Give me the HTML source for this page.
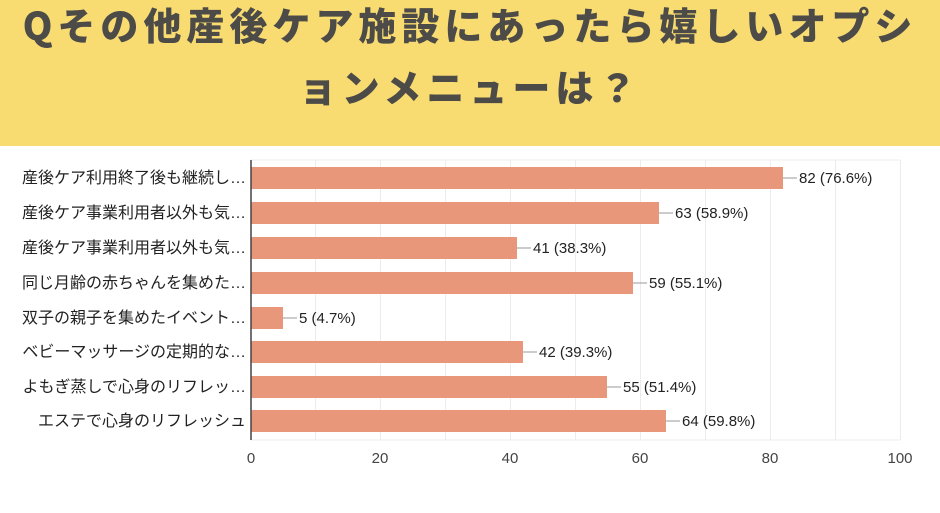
<!DOCTYPE html>
<html><head><meta charset="utf-8"><style>
body{margin:0;width:940px;height:513px;background:#fff;overflow:hidden;font-family:"Liberation Sans","Noto Sans CJK JP",sans-serif;}
.hd{position:absolute;left:0;top:0;width:940px;height:146px;background:#f8dc71;}
.t{position:absolute;left:0;width:940px;text-align:center;font-family:"Noto Sans CJK JP",sans-serif;font-weight:900;color:#4d4b48;font-size:38px;letter-spacing:5px;white-space:nowrap;}
</style></head><body>
<div class="hd"></div>
<div class="t" style="top:-4px;">Qその他産後ケア施設にあったら嬉しいオプシ</div>
<div class="t" style="top:58px;">ョンメニューは？</div>
<svg width="940" height="513" style="position:absolute;left:0;top:0" font-family="Liberation Sans, Noto Sans CJK JP, sans-serif">
<g stroke="#ececec" stroke-width="1">
<line x1="251" y1="160" x2="900" y2="160"/>
<line x1="315.5" y1="160" x2="315.5" y2="440"/><line x1="380.5" y1="160" x2="380.5" y2="440"/><line x1="445.5" y1="160" x2="445.5" y2="440"/><line x1="510.5" y1="160" x2="510.5" y2="440"/><line x1="575.5" y1="160" x2="575.5" y2="440"/><line x1="640.5" y1="160" x2="640.5" y2="440"/><line x1="705.5" y1="160" x2="705.5" y2="440"/><line x1="770.5" y1="160" x2="770.5" y2="440"/><line x1="835.5" y1="160" x2="835.5" y2="440"/><line x1="900.5" y1="160" x2="900.5" y2="440"/>
<line x1="251" y1="440" x2="900" y2="440"/>
</g>
<g fill="#e8977b">
<rect x="251" y="167" width="532" height="22"/>
<rect x="251" y="202" width="408" height="22"/>
<rect x="251" y="237" width="266" height="22"/>
<rect x="251" y="272" width="382" height="22"/>
<rect x="251" y="307" width="32" height="22"/>
<rect x="251" y="341" width="272" height="22"/>
<rect x="251" y="376" width="356" height="22"/>
<rect x="251" y="410" width="415" height="22"/>
</g>
<line x1="251" y1="160" x2="251" y2="440" stroke="#444" stroke-width="1.5"/>
<g stroke="#999" stroke-width="1">
<line x1="783" y1="178" x2="797" y2="178"/><line x1="659" y1="213" x2="673" y2="213"/><line x1="517" y1="248" x2="531" y2="248"/><line x1="633" y1="283" x2="647" y2="283"/><line x1="283" y1="318" x2="297" y2="318"/><line x1="523" y1="352" x2="537" y2="352"/><line x1="607" y1="387" x2="621" y2="387"/><line x1="666" y1="421" x2="680" y2="421"/>
</g>
<g font-size="15" fill="#222">
<text x="799" y="183">82 (76.6%)</text>
<text x="675" y="218">63 (58.9%)</text>
<text x="533" y="253">41 (38.3%)</text>
<text x="649" y="288">59 (55.1%)</text>
<text x="299" y="323">5 (4.7%)</text>
<text x="539" y="357">42 (39.3%)</text>
<text x="623" y="392">55 (51.4%)</text>
<text x="682" y="426">64 (59.8%)</text>
</g>
<g font-size="16" fill="#222" text-anchor="end">
<text x="246" y="183">産後ケア利用終了後も継続し…</text>
<text x="246" y="218">産後ケア事業利用者以外も気…</text>
<text x="246" y="253">産後ケア事業利用者以外も気…</text>
<text x="246" y="288">同じ月齢の赤ちゃんを集めた…</text>
<text x="246" y="323">双子の親子を集めたイベント…</text>
<text x="246" y="357">ベビーマッサージの定期的な…</text>
<text x="246" y="392">よもぎ蒸しで心身のリフレッ…</text>
<text x="246" y="426">エステで心身のリフレッシュ</text>
</g>
<g font-size="15" fill="#444" text-anchor="middle">
<text x="251" y="463">0</text><text x="380" y="463">20</text><text x="510" y="463">40</text><text x="640" y="463">60</text><text x="770" y="463">80</text><text x="900" y="463">100</text>
</g>
</svg>
</body></html>
